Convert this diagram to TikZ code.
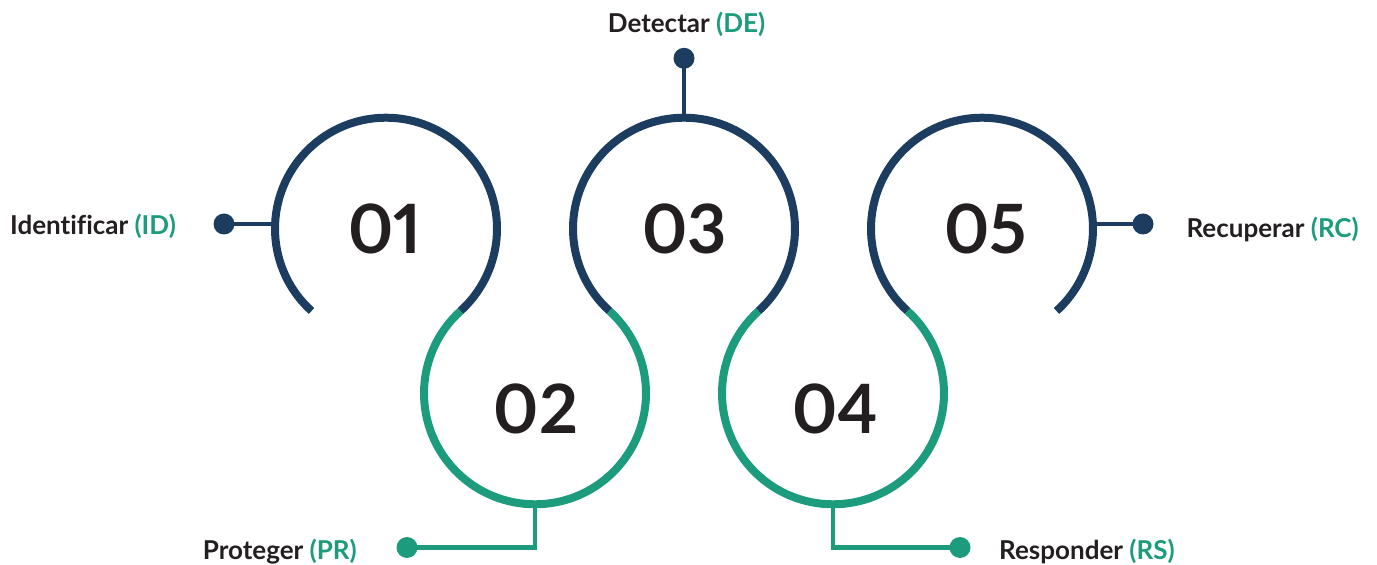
\documentclass[tikz,border=0pt]{standalone}
\usepackage{fontspec}
\setmainfont{Lato}[Ligatures=NoCommon]
\newfontfamily\numfont{Lato}[Numbers=Proportional]
\usetikzlibrary{calc}
\definecolor{navy}{RGB}{28,61,96}
\definecolor{teal}{RGB}{28,156,124}
\definecolor{ink}{RGB}{35,31,32}
\begin{document}
\begin{tikzpicture}[x=1pt,y=1pt,
  ring/.style={line width=8pt},
  conn/.style={line width=4.5pt, line join=miter},
  dot/.style={circle, inner sep=0pt, minimum size=21pt},
  num/.style={font=\numfont\fontsize{68}{68}\selectfont\bfseries, text=ink, inner sep=0pt},
  lab/.style={font=\fontsize{26}{26}\selectfont\bfseries, text=ink, inner sep=0pt}]
\useasboundingbox (0,0) rectangle (1377,565);
\def\angA{47.85}
\def\radR{111}
% circle centres
\coordinate (c1) at (386,336.3);
\coordinate (c2) at (535,171.7);
\coordinate (c3) at (684,336.3);
\coordinate (c4) at (833,171.7);
\coordinate (c5) at (982,336.3);
% connector ends on the rings
\coordinate (e1) at (275.1,341);
\coordinate (e5) at (1092.9,341);
\coordinate (e3) at (684,447.3);
\coordinate (e2) at (535,60.7);
\coordinate (e4) at (833,60.7);
% dots
\node[dot, fill=navy] (d1) at (224,341) {};
\node[dot, fill=navy] (d3) at (684,506.7) {};
\node[dot, fill=navy] (d5) at (1143,341) {};
\node[dot, fill=teal] (d2) at (407,17.5) {};
\node[dot, fill=teal] (d4) at (960,17.5) {};
% connectors
\draw[conn, navy] (d1.center) -- (e1);
\draw[conn, navy] (d3.center) -- (e3);
\draw[conn, navy] (d5.center) -- (e5);
\draw[conn, teal] (e2) |- (d2.center);
\draw[conn, teal] (e4) |- (d4.center);
% rings
\foreach \c in {c1,c3,c5}
  \draw[ring, navy] ($(\c)+(180+\angA:\radR pt)$) arc[start angle=180+\angA, end angle=-\angA, radius=\radR pt];
\foreach \c in {c2,c4}
  \draw[ring, teal] ($(\c)+(180-\angA:\radR pt)$) arc[start angle=180-\angA, end angle=360+\angA, radius=\radR pt];
% numbers
\node[num] (n1) at (385,336.3) {01};
\node[num] (n2) at (536,156) {02};
\node[num] (n3) at (684.5,336.3) {03};
\node[num] (n4) at (835,156) {04};
\node[num] (n5) at (985.5,336.3) {05};
% labels
\node[lab, anchor=base west] (l1) at (10,330) {Identificar \textcolor{teal}{(ID)}};
\node[lab, anchor=base] (l3) at (686.5,532) {Detectar \textcolor{teal}{(DE)}};
\node[lab, anchor=base east] (l5) at (1359,327) {Recuperar \textcolor{teal}{(RC)}};
\node[lab, anchor=base east] (l2) at (357,5) {Proteger \textcolor{teal}{(PR)}};
\node[lab, anchor=base west] (l4) at (999,5.5) {Responder \textcolor{teal}{(RS)}};
\end{tikzpicture}
\end{document}
